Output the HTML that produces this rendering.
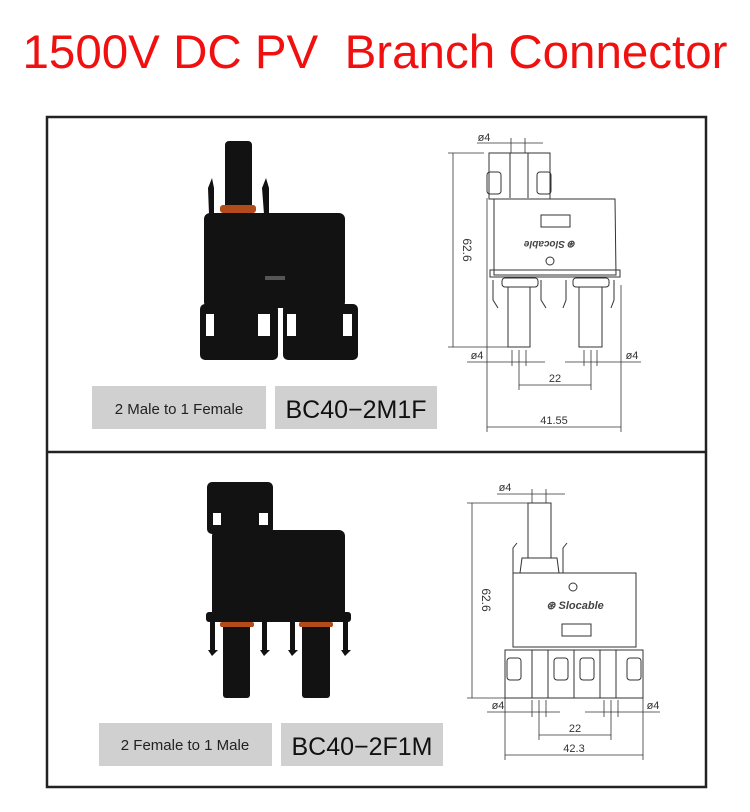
<!DOCTYPE html>
<html><head><meta charset="utf-8"><style>
html,body{margin:0;padding:0;background:#fff;}
svg{display:block;}
</style></head><body>
<svg width="750" height="812" viewBox="0 0 750 812" xmlns="http://www.w3.org/2000/svg" font-family="Liberation Sans, sans-serif">
<rect width="750" height="812" fill="#fff"/>
<text x="375" y="68" text-anchor="middle" font-size="47.5" fill="#f01010" xml:space="preserve">1500V DC PV  Branch Connector</text>
<!-- frame -->
<rect x="47" y="117" width="659" height="670" fill="none" stroke="#222" stroke-width="2.5"/>
<line x1="47" y1="452" x2="706" y2="452" stroke="#222" stroke-width="2.5"/>

<!-- TOP PHOTO -->
<g fill="#121212">
<rect x="225" y="141" width="27" height="70" rx="4"/>
<rect x="220" y="205" width="36" height="8" rx="3" fill="#b34a1a"/>
<path d="M208 188 L212 178 L214 188 L214 214 L209 214Z"/>
<path d="M262 188 L266 178 L269 188 L269 214 L264 214Z"/>
<rect x="204" y="213" width="141" height="95" rx="6"/>
<rect x="200" y="304" width="78" height="56" rx="5"/>
<rect x="283" y="304" width="75" height="56" rx="5"/>
</g>
<rect x="265" y="276" width="20" height="4" fill="#555"/>
<g fill="#fff">
<rect x="206" y="314" width="8" height="22"/>
<rect x="258" y="314" width="12" height="22"/>
<rect x="287" y="314" width="9" height="22"/>
<rect x="343" y="314" width="9" height="22"/>
</g>
<rect x="92" y="386" width="174" height="43" fill="#d0d0d0"/>
<text x="179" y="414" text-anchor="middle" font-size="15" fill="#222">2  Male to 1 Female</text>
<rect x="275" y="386" width="162" height="43" fill="#d0d0d0"/>
<text x="356" y="418" text-anchor="middle" font-size="25" fill="#111">BC40−2M1F</text>

<!-- BOTTOM PHOTO -->
<g fill="#121212">
<rect x="207" y="482" width="66" height="52" rx="5"/>
<rect x="212" y="530" width="133" height="92" rx="6"/>
<rect x="206" y="612" width="145" height="10" rx="3"/>
<rect x="223" y="622" width="27" height="76" rx="3"/>
<rect x="302" y="622" width="28" height="76" rx="3"/>
<path d="M210 620 L215 620 L215 650 L218 650 L212 656 L208 650 L210 650Z"/>
<path d="M262 620 L267 620 L267 650 L270 650 L264 656 L260 650 L262 650Z"/>
<path d="M290 620 L295 620 L295 650 L298 650 L292 656 L288 650 L290 650Z"/>
<path d="M343 620 L348 620 L348 650 L351 650 L345 656 L341 650 L343 650Z"/>
</g>
<rect x="220" y="622" width="34" height="5" rx="2" fill="#b34a1a"/>
<rect x="299" y="622" width="34" height="5" rx="2" fill="#b34a1a"/>
<rect x="213" y="513" width="8" height="12" fill="#fff"/>
<rect x="259" y="513" width="9" height="12" fill="#fff"/>
<rect x="99" y="723" width="173" height="43" fill="#d0d0d0"/>
<text x="185" y="750" text-anchor="middle" font-size="15" fill="#222">2  Female to 1 Male</text>
<rect x="281" y="723" width="162" height="43" fill="#d0d0d0"/>
<text x="362" y="755" text-anchor="middle" font-size="25" fill="#111">BC40−2F1M</text>

<!-- TOP DRAWING -->
<g fill="none" stroke="#333" stroke-width="1">
<rect x="489" y="153" width="61" height="46"/>
<line x1="510" y1="153" x2="510" y2="198"/><line x1="528" y1="153" x2="528" y2="198"/>
<rect x="487" y="172" width="14" height="22" rx="3"/><rect x="537" y="172" width="14" height="22" rx="3"/>
<path d="M494 199 L615 199 L616 275 L494 275Z"/>
<rect x="541" y="215" width="29" height="12"/>
<circle cx="550" cy="261" r="4"/>
<rect x="490" y="270" width="130" height="7"/>
<rect x="502" y="278" width="36" height="9" rx="3"/>
<rect x="573" y="278" width="36" height="9" rx="3"/>
<rect x="508" y="287" width="22" height="60"/>
<rect x="579" y="287" width="23" height="60"/>
<path d="M493 280 L493 300 L498 308"/><path d="M541 280 L541 300 L546 308"/>
<path d="M566 280 L566 300 L563 308"/><path d="M614 280 L614 300 L611 308"/>
</g>
<text x="550" y="247" text-anchor="middle" font-size="10" font-weight="bold" font-style="italic" fill="#444" transform="rotate(180 550 244)">⊛ Slocable</text>
<g stroke="#333" stroke-width="0.8" fill="none">
<line x1="448" y1="153" x2="484" y2="153"/><line x1="448" y1="347" x2="508" y2="347"/>
<line x1="453" y1="153" x2="453" y2="347"/>
<line x1="487" y1="198" x2="487" y2="432"/><line x1="621" y1="285" x2="621" y2="432"/>
<line x1="487" y1="427" x2="621" y2="427"/>
<line x1="519" y1="350" x2="519" y2="390"/><line x1="591" y1="350" x2="591" y2="390"/>
<line x1="519" y1="385" x2="591" y2="385"/>
<line x1="467" y1="362" x2="545" y2="362"/><line x1="565" y1="362" x2="641" y2="362"/>
<line x1="512" y1="350" x2="512" y2="366"/><line x1="526" y1="350" x2="526" y2="366"/>
<line x1="584" y1="350" x2="584" y2="366"/><line x1="597" y1="350" x2="597" y2="366"/>
<line x1="477" y1="143" x2="543" y2="143"/>
<line x1="511" y1="138" x2="511" y2="153"/><line x1="525" y1="138" x2="525" y2="153"/>
</g>
<g font-size="11" fill="#333" text-anchor="middle">
<text x="484" y="141">ø4</text>
<text x="554" y="424">41.55</text>
<text x="555" y="382">22</text>
<text x="477" y="359">ø4</text>
<text x="632" y="359">ø4</text>
<text x="463" y="250" transform="rotate(90 463 250)" font-size="12">62.6</text>
</g>

<!-- BOTTOM DRAWING -->
<g fill="none" stroke="#333" stroke-width="1">
<rect x="528" y="503" width="23" height="55"/>
<path d="M522 558 L557 558 L559 573 L520 573Z"/>
<path d="M513 573 L636 573 L636 647 L513 647Z"/>
<rect x="562" y="624" width="29" height="12"/>
<circle cx="573" cy="587" r="4"/>
<path d="M505 650 L643 650 L643 698 L505 698Z"/>
<line x1="532" y1="650" x2="532" y2="698"/><line x1="548" y1="650" x2="548" y2="698"/>
<line x1="600" y1="650" x2="600" y2="698"/><line x1="616" y1="650" x2="616" y2="698"/>
<line x1="574" y1="650" x2="574" y2="698"/>
<rect x="507" y="658" width="14" height="22" rx="3"/><rect x="554" y="658" width="14" height="22" rx="3"/>
<rect x="580" y="658" width="14" height="22" rx="3"/><rect x="627" y="658" width="14" height="22" rx="3"/>
<path d="M513 573 L513 548 L517 543"/><path d="M563 573 L563 548 L567 543"/>
</g>
<text x="575" y="609" text-anchor="middle" font-size="11" font-weight="bold" font-style="italic" fill="#444">⊛ Slocable</text>
<g stroke="#333" stroke-width="0.8" fill="none">
<line x1="467" y1="503" x2="528" y2="503"/><line x1="467" y1="698" x2="505" y2="698"/>
<line x1="472" y1="503" x2="472" y2="698"/>
<line x1="505" y1="698" x2="505" y2="760"/><line x1="643" y1="698" x2="643" y2="760"/>
<line x1="505" y1="755" x2="643" y2="755"/>
<line x1="539" y1="700" x2="539" y2="740"/><line x1="611" y1="700" x2="611" y2="740"/>
<line x1="539" y1="735" x2="611" y2="735"/>
<line x1="487" y1="712" x2="560" y2="712"/><line x1="585" y1="712" x2="660" y2="712"/>
<line x1="532" y1="700" x2="532" y2="717"/><line x1="546" y1="700" x2="546" y2="717"/>
<line x1="604" y1="700" x2="604" y2="717"/><line x1="618" y1="700" x2="618" y2="717"/>
<line x1="497" y1="494" x2="565" y2="494"/>
<line x1="532" y1="489" x2="532" y2="503"/><line x1="546" y1="489" x2="546" y2="503"/>
</g>
<g font-size="11" fill="#333" text-anchor="middle">
<text x="505" y="491">ø4</text>
<text x="574" y="752">42.3</text>
<text x="575" y="732">22</text>
<text x="498" y="709">ø4</text>
<text x="653" y="709">ø4</text>
<text x="482" y="600" transform="rotate(90 482 600)" font-size="12">62.6</text>
</g>
</svg>
</body></html>
